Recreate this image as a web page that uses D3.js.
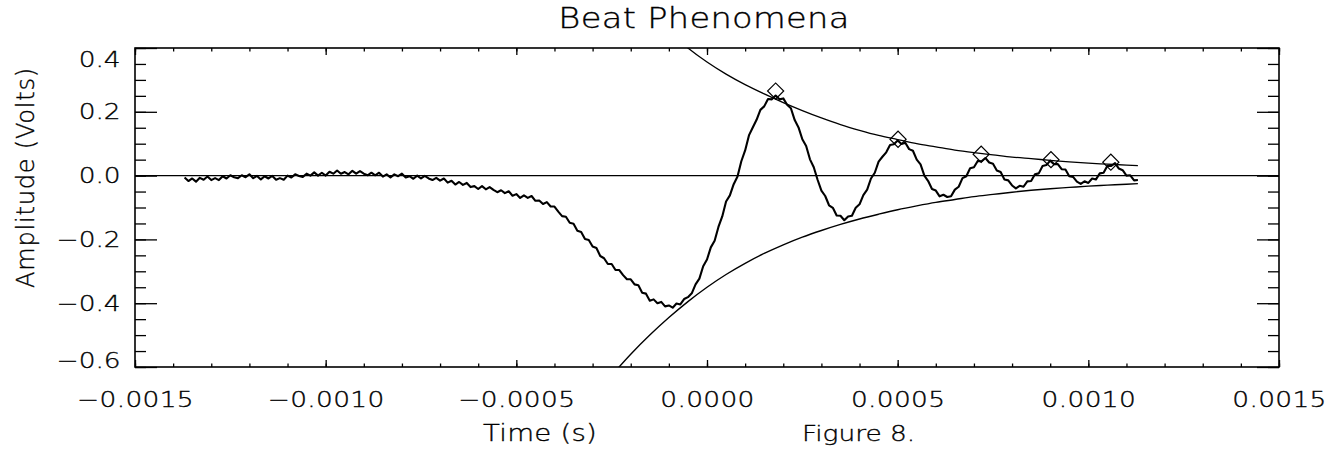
<!DOCTYPE html>
<html>
<head>
<meta charset="utf-8">
<title>Beat Phenomena</title>
<script src="https://cdn.jsdelivr.net/npm/d3@7"></script>
<style>
  html, body { margin: 0; padding: 0; background: #fff; }
  svg { display: block; }
  text { font-family: "DejaVu Sans", "Liberation Sans", sans-serif; font-weight: 200; fill: #000; stroke: #000; stroke-width: 0.35; }
</style>
</head>
<body>
<div id="chart"></div>
<script>
// scope trace: first sample time and spacing (ms), amplitude per sample (V)
const traceStartMs = -1.37;
const traceStepMs = 0.01;
const traceVolts = [
  -0.006,-0.017,-0.009,-0.019,-0.007,-0.013,-0.003,-0.014,-0.008,-0.014,
  -0.002,-0.009, 0.001,-0.005,-0.008, 0.001,-0.005, 0.004,-0.008,-0.001,
  -0.012,-0.002,-0.009,-0.001,-0.013,-0.008,-0.013, 0.000,-0.006, 0.004,
  -0.001,-0.004, 0.006, 0.000, 0.010, 0.000, 0.009, 0.000, 0.012, 0.006,
   0.016, 0.006, 0.011, 0.004, 0.015, 0.006, 0.014, 0.006, 0.001, 0.009,
   0.001, 0.009,-0.003, 0.004,-0.006, 0.004,-0.002, 0.006,-0.006,-0.002,
  -0.010, 0.000,-0.009,-0.001,-0.009,-0.014,-0.007,-0.016,-0.009,-0.022,
  -0.016,-0.028,-0.020,-0.029,-0.023,-0.036,-0.033,-0.042,-0.033,-0.043,
  -0.036,-0.045,-0.052,-0.046,-0.055,-0.049,-0.063,-0.058,-0.070,-0.062,
  -0.070,-0.064,-0.079,-0.078,-0.089,-0.083,-0.097,-0.097,-0.113,-0.127,
  -0.129,-0.148,-0.151,-0.173,-0.177,-0.199,-0.202,-0.222,-0.227,-0.252,
  -0.259,-0.277,-0.277,-0.296,-0.296,-0.312,-0.325,-0.325,-0.341,-0.344,
  -0.367,-0.370,-0.392,-0.388,-0.400,-0.396,-0.410,-0.407,-0.414,-0.401,
  -0.404,-0.387,-0.381,-0.369,-0.341,-0.323,-0.284,-0.263,-0.225,-0.204,
  -0.161,-0.128,-0.081,-0.062,-0.027,-0.003, 0.045, 0.079, 0.126, 0.151,
   0.175, 0.206, 0.217, 0.240, 0.239, 0.251, 0.239, 0.242, 0.222, 0.211,
   0.174, 0.151, 0.114, 0.093, 0.051, 0.026,-0.013,-0.047,-0.064,-0.093,
  -0.101,-0.125,-0.126,-0.140,-0.128,-0.126,-0.101,-0.090,-0.061,-0.044,
  -0.009, 0.009, 0.044, 0.059, 0.073, 0.096, 0.098, 0.110, 0.099, 0.103,
   0.083, 0.078, 0.050, 0.035, 0.000,-0.017,-0.042,-0.047,-0.065,-0.060,
  -0.067,-0.065,-0.044,-0.035,-0.008,-0.002, 0.023, 0.026, 0.046, 0.045,
   0.055, 0.041, 0.037, 0.016, 0.011,-0.012,-0.015,-0.031,-0.040,-0.032,
  -0.035,-0.018,-0.017, 0.004, 0.007, 0.030, 0.033, 0.047, 0.036, 0.036,
   0.020, 0.019,-0.002,-0.004,-0.019,-0.026,-0.018,-0.023,-0.009,-0.012,
   0.007, 0.009, 0.031, 0.030, 0.039, 0.022, 0.017, 0.000, 0.001,-0.015,-0.014
];

// fitted decay envelopes (ms, V)
const upperTimesMs = [-0.10,-0.05,0.00,0.05,0.10,0.15,0.20,0.25,0.30,0.35,0.40,0.45,0.50,
                      0.55,0.60,0.65,0.70,0.75,0.80,0.85,0.90,0.95,1.00,1.05,1.10,1.13];
const upperVolts = [0.452,0.400,0.356,0.318,0.285,0.256,0.229,0.204,0.181,0.160,0.142,0.126,0.113,
                    0.100,0.090,0.080,0.072,0.065,0.058,0.053,0.048,0.043,0.039,0.036,0.033,0.031];
const lowerTimesMs = [-0.26,-0.20,-0.15,-0.10,-0.05,0.00,0.05,0.10,0.15,0.20,0.25,0.30,0.35,0.40,0.45,
                      0.50,0.55,0.60,0.65,0.70,0.75,0.80,0.85,0.90,0.95,1.00,1.05,1.10,1.13];
const lowerVolts = [-0.640,-0.560,-0.500,-0.445,-0.395,-0.350,-0.310,-0.275,-0.244,-0.217,-0.193,-0.172,
                    -0.153,-0.136,-0.121,-0.107,-0.095,-0.084,-0.075,-0.066,-0.059,-0.052,-0.046,-0.041,
                    -0.037,-0.033,-0.030,-0.027,-0.025];

// picked peaks (diamonds)
const peakTimesMs = [0.180, 0.501, 0.719, 0.902, 1.059];
const peakVolts = [0.265, 0.114, 0.067, 0.050, 0.042];

// axis ticks
const xTickValues = [-0.0015, -0.0010, -0.0005, 0.0000, 0.0005, 0.0010, 0.0015];
const yTickValues = [-0.6, -0.4, -0.2, 0.0, 0.2, 0.4];

const titleText = "Beat Phenomena";
const xTitleText = "Time (s)";
const noteText = "Figure 8.";
const yTitleText = "Amplitude (Volts)";

const W = 1342, H = 456;
const margin = { top: 48, right: 63, bottom: 89, left: 135 };
const width = W - margin.left - margin.right;
const height = H - margin.top - margin.bottom;
const stretch = 1.2; // the plotter font is wider than DejaVu

const svg = d3.select("#chart").append("svg")
    .attr("width", W)
    .attr("height", H);

svg.append("rect").attr("width", W).attr("height", H).attr("fill", "#fff");

const g = svg.append("g")
    .attr("transform", `translate(${margin.left},${margin.top})`);

const x = d3.scaleLinear().domain([-0.0015, 0.0015]).range([0, width]);
const y = d3.scaleLinear().domain([-0.6, 0.4]).range([height, 0]);

svg.append("defs").append("clipPath").attr("id", "plot-clip")
  .append("rect").attr("width", width).attr("height", height);

// minor ticks on all four sides, pointing in
const styleTicks = sel => {
    sel.select(".domain").remove();
    sel.selectAll(".tick line").attr("stroke", "#000").attr("stroke-width", 1.3);
};

g.append("g").attr("transform", `translate(0,${height})`)
    .call(d3.axisBottom(x).ticks(30).tickSizeInner(-3.5).tickSizeOuter(0).tickFormat(""))
    .call(styleTicks);
g.append("g")
    .call(d3.axisTop(x).ticks(30).tickSizeInner(-3.5).tickSizeOuter(0).tickFormat(""))
    .call(styleTicks);
g.append("g")
    .call(d3.axisLeft(y).ticks(20).tickSizeInner(-11).tickSizeOuter(0).tickFormat(""))
    .call(styleTicks);
g.append("g").attr("transform", `translate(${width},0)`)
    .call(d3.axisRight(y).ticks(20).tickSizeInner(-11).tickSizeOuter(0).tickFormat(""))
    .call(styleTicks);

// major ticks + labels
const xAxis = g.append("g").attr("transform", `translate(0,${height})`)
    .call(d3.axisBottom(x).tickValues(xTickValues).tickFormat(d3.format(".4f"))
        .tickSizeInner(-7).tickSizeOuter(0).tickPadding(24))
    .call(styleTicks);
xAxis.attr("font-family", null).attr("font-size", 22);
xAxis.selectAll("text").attr("fill", "#000").attr("letter-spacing", 0.3)
    .attr("transform", `scale(${stretch},1)`);

g.append("g")
    .call(d3.axisTop(x).tickValues(xTickValues).tickFormat("")
        .tickSizeInner(-7).tickSizeOuter(0))
    .call(styleTicks);

const yAxis = g.append("g")
    .call(d3.axisLeft(y).tickValues(yTickValues).tickFormat(d3.format(".1f"))
        .tickSizeInner(-22).tickSizeOuter(0).tickPadding(12))
    .call(styleTicks);
yAxis.attr("font-family", null).attr("font-size", 22);
yAxis.selectAll("text").attr("fill", "#000")
    .attr("transform", `scale(${stretch},1)`);
// end labels sit inside the frame
yAxis.selectAll(".tick").filter(d => d === 0.4).select("text").attr("dy", "0.86em");
yAxis.selectAll(".tick").filter(d => d === -0.6).select("text").attr("dy", "0.0em");

g.append("g").attr("transform", `translate(${width},0)`)
    .call(d3.axisRight(y).tickValues(yTickValues).tickFormat("")
        .tickSizeInner(-22).tickSizeOuter(0))
    .call(styleTicks);

// frame
g.append("rect")
    .attr("width", width)
    .attr("height", height)
    .attr("fill", "none")
    .attr("stroke", "#000")
    .attr("stroke-width", 1.6);

// zero line
g.append("line")
    .attr("x1", 0).attr("x2", width)
    .attr("y1", y(0)).attr("y2", y(0))
    .attr("stroke", "#000")
    .attr("stroke-width", 1.3);

const plot = g.append("g").attr("clip-path", "url(#plot-clip)");

const envLine = d3.line()
    .x(d => x(d[0] / 1000))
    .y(d => y(d[1]))
    .curve(d3.curveMonotoneX);

plot.append("path")
    .datum(upperTimesMs.map((t, i) => [t, upperVolts[i]]))
    .attr("d", envLine)
    .attr("fill", "none")
    .attr("stroke", "#000")
    .attr("stroke-width", 1.3);

plot.append("path")
    .datum(lowerTimesMs.map((t, i) => [t, lowerVolts[i]]))
    .attr("d", envLine)
    .attr("fill", "none")
    .attr("stroke", "#000")
    .attr("stroke-width", 1.4);

const traceLine = d3.line()
    .x((d, i) => x((traceStartMs + i * traceStepMs) / 1000))
    .y(d => y(d));

plot.append("path")
    .datum(traceVolts)
    .attr("d", traceLine)
    .attr("fill", "none")
    .attr("stroke", "#000")
    .attr("stroke-width", 2.1)
    .attr("stroke-linejoin", "round");

const diamond = d3.symbol().type(d3.symbolSquare).size(130);
plot.selectAll(".peak")
    .data(peakTimesMs.map((t, i) => [t, peakVolts[i]]))
    .join("path")
    .attr("class", "peak")
    .attr("d", diamond)
    .attr("transform", d => `translate(${x(d[0] / 1000)},${y(d[1])}) rotate(45)`)
    .attr("fill", "none")
    .attr("stroke", "#000")
    .attr("stroke-width", 1.2);

// titles
svg.append("text")
    .attr("transform", `translate(${margin.left + width / 2 - 3},28) scale(${stretch},1)`)
    .attr("text-anchor", "middle")
    .attr("font-size", 28)
    .attr("letter-spacing", 0.3)
    .text(titleText);

svg.append("text")
    .attr("transform", `translate(483,441) scale(${stretch},1)`)
    .attr("font-size", 23)
    .attr("letter-spacing", 0.2)
    .text(xTitleText);

svg.append("text")
    .attr("transform", `translate(802,441) scale(${stretch},1)`)
    .attr("font-size", 22)
    .text(noteText);

svg.append("text")
    .attr("transform", "translate(34,177.5) rotate(-90)")
    .attr("text-anchor", "middle")
    .attr("font-size", 24)
    .attr("letter-spacing", 0.8)
    .text(yTitleText);
</script>
</body>
</html>
